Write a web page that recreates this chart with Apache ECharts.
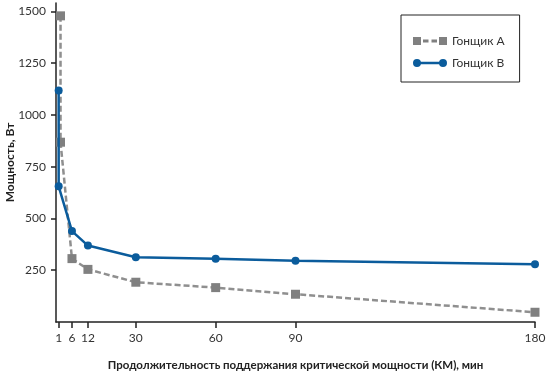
<!DOCTYPE html>
<html>
<head>
<meta charset="utf-8">
<script src="https://cdn.jsdelivr.net/npm/echarts@6/dist/echarts.min.js"></script>
<style>
html,body{margin:0;padding:0;background:#fff;}
#c{width:546px;height:374px;}
</style>
</head>
<body>
<div id="c"></div>
<script>
var seriesNames = ['Гонщик А', 'Гонщик В'];
var minutesA = [1.7, 1.7, 6, 12, 30, 60, 90, 180];
var powerA = [1478, 868, 306, 254, 192, 166, 134, 47];
var minutesB = [1, 1, 6, 12, 30, 60, 90, 180];
var powerB = [1117, 655, 439, 369, 313, 305, 296, 279];
var xTicks = [1, 6, 12, 30, 60, 90, 180];
var yTicks = [250, 500, 750, 1000, 1250, 1500];
var xName = 'Продолжительность поддержания критической мощности (КМ), мин';
var yName = 'Мощность, Вт';

function pairs(xs, ys) { return xs.map(function (x, i) { return [x, ys[i]]; }); }
function plain(v) { return String(v); }

var FONT = "Lato, Roboto, 'Liberation Sans', sans-serif";
var chart = echarts.init(document.getElementById('c'), null, {renderer: 'canvas'});
chart.setOption({
  animation: false,
  backgroundColor: '#fff',
  textStyle: {fontFamily: FONT},
  grid: {left: 56, right: 11, top: 3, bottom: 52, containLabel: false, outerBoundsMode: 'none'},
  legend: {
    orient: 'vertical',
    left: 401, top: 15,
    padding: [20, 15, 13, 12],
    itemGap: 10,
    itemWidth: 34, itemHeight: 8,
    borderColor: '#222', borderWidth: 1, borderRadius: 0,
    textStyle: {fontFamily: FONT, fontSize: 12, color: '#333'},
    itemStyle: {borderWidth: 0},
    lineStyle: {width: 0, type: 'solid'},
    data: [
      {name: seriesNames[0], icon: 'path://M0,0h8v8h-8z M10,2.5h5.5v3h-5.5z M18.5,2.5h5.5v3h-5.5z M26,0h8v8h-8z'},
      {name: seriesNames[1], icon: 'path://M0,4a4,4 0 1,1 8,0a4,4 0 1,1 -8,0z M26,4a4,4 0 1,1 8,0a4,4 0 1,1 -8,0z M7.5,2.7h19v2.6h-19z'}
    ]
  },
  xAxis: {
    type: 'value', min: 0, max: 180,
    name: xName, nameLocation: 'middle', nameGap: 37, nameMoveOverlap: false,
    nameTextStyle: {fontFamily: FONT, fontSize: 11.5, fontWeight: 'bold', color: '#222'},
    splitLine: {show: false},
    axisLine: {lineStyle: {color: '#222', width: 1.5}},
    axisTick: {show: true, length: 6, customValues: xTicks, lineStyle: {color: '#222', width: 1.5}},
    axisLabel: {customValues: xTicks, formatter: plain, fontSize: 12, color: '#333', margin: 10, fontFamily: FONT}
  },
  yAxis: {
    type: 'value', min: 0, max: 1540,
    name: yName, nameLocation: 'middle', nameGap: 40, nameRotate: 90, nameMoveOverlap: false,
    nameTextStyle: {fontFamily: FONT, fontSize: 12, fontWeight: 'bold', color: '#222'},
    splitLine: {show: false},
    axisLine: {show: true, lineStyle: {color: '#222', width: 1.5}},
    axisTick: {show: true, length: 5, customValues: yTicks, lineStyle: {color: '#222', width: 1.5}},
    axisLabel: {customValues: yTicks, formatter: plain, fontSize: 12, color: '#333', margin: 10, fontFamily: FONT}
  },
  series: [
    {
      name: seriesNames[0], type: 'line',
      data: pairs(minutesA, powerA),
      symbol: 'rect', symbolSize: 9,
      itemStyle: {color: '#808080'},
      lineStyle: {color: '#8f8f8f', width: 2.5, type: [6, 3]},
      z: 2
    },
    {
      name: seriesNames[1], type: 'line',
      data: pairs(minutesB, powerB),
      symbol: 'circle', symbolSize: 8,
      itemStyle: {color: '#0b5c9c'},
      lineStyle: {color: '#0b5c9c', width: 2.5},
      z: 3
    }
  ]
});
</script>
</body>
</html>
